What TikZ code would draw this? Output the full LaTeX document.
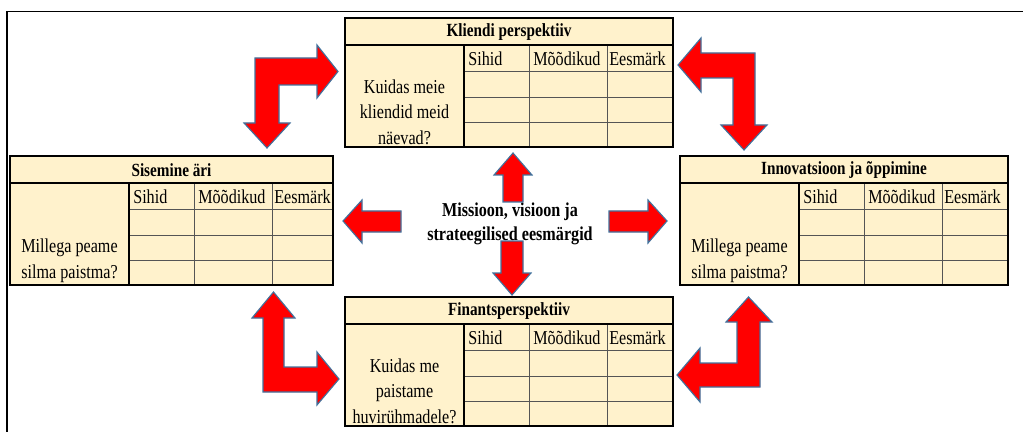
\documentclass[tikz,border=0pt]{standalone}
\usepackage{fontspec}
\setmainfont{Liberation Serif}[FakeStretch=0.82]
\usetikzlibrary{calc}
\definecolor{cardbg}{HTML}{FFF2CC}
\definecolor{gridgray}{HTML}{555555}
\definecolor{arrowred}{HTML}{FF0000}
\definecolor{arrowedge}{HTML}{41719C}
\newcommand{\bodyfont}{\fontsize{14}{18}\selectfont}
\newcommand{\headfont}{\fontsize{13.2}{17}\selectfont\bfseries}
\newcommand{\missionfont}{\fontsize{14}{17}\selectfont\bfseries}
\tikzset{
  pageframe/.style={draw=black, line width=1.2pt},
  cardframe/.style={draw=black, line width=1.3pt},
  cardrule/.style={draw=black, line width=1.1pt},
  gridline/.style={draw=gridgray, line width=0.6pt},
  cardtitle/.style={font=\headfont, inner sep=0pt},
  colhead/.style={anchor=west, inner sep=0pt, font=\bodyfont},
  question/.style={anchor=south, align=center, font=\bodyfont, inner sep=1pt},
  mission/.style={font=\missionfont, align=center},
  blockarrow/.style={fill=arrowred, draw=arrowedge, line width=0.8pt, line join=miter},
}
% one scorecard: name, left x, top y, width, title, question
\newcommand{\scorecard}[6]{%
  \coordinate (#1-nw) at (#2,#3);
  \coordinate (#1-se) at ($(#2,#3)+(#4,129)$);
  \fill[cardbg] (#1-nw) rectangle (#1-se);
  \foreach \rowy in {53,79,104}
    \draw[gridline] ($(#1-nw)+(119,\rowy)$) -- ($(#1-nw)+(#4,\rowy)$);
  \foreach \colx in {184,262}
    \draw[gridline] ($(#1-nw)+(\colx,27)$) -- ($(#1-nw)+(\colx,129)$);
  \draw[cardrule] ($(#1-nw)+(0,27)$) -- ($(#1-nw)+(#4,27)$);
  \draw[cardrule] ($(#1-nw)+(119,27)$) -- ($(#1-nw)+(119,129)$);
  \draw[cardframe] (#1-nw) rectangle (#1-se);
  \node[cardtitle] (#1-title) at ($(#1-nw)+(#4/2,14.5)$) {#5};
  \node[colhead] (#1-sihid) at ($(#1-nw)+(123,41)$) {Sihid};
  \node[colhead] (#1-moodik) at ($(#1-nw)+(188,41)$) {Mõõdikud};
  \node[colhead] (#1-eesm) at ($(#1-nw)+(264,41)$) {Eesmärk};
  \node[question] (#1-q) at ($(#1-nw)+(59.5,128)$) {#6};
}

\begin{document}
\begin{tikzpicture}[x=0.025cm, y=-0.025cm]
\useasboundingbox (0,0) rectangle (1023,432);

% page frame (top and left edges only)
\draw[pageframe] (7,432) |- (1023,11.5);

% the four perspectives
\scorecard{client}{345}{18}{328}{Kliendi perspektiiv}{Kuidas meie\\kliendid meid\\näevad?}
\scorecard{internal}{10}{156}{323}{Sisemine äri}{Millega peame\\silma paistma?}
\scorecard{learning}{680}{156}{328}{Innovatsioon ja õppimine}{Millega peame\\silma paistma?}
\scorecard{finance}{345}{297}{328}{Finantsperspektiiv}{Kuidas me\\paistame\\huvirühmadele?}

% centre
\node[mission] (mission) at (510,224) {Missioon, visioon ja\\strateegilised eesmärgid};

% centre arrows
\draw[blockarrow] (513,153) -- (532,175) -- (523,175) -- (523,202) -- (503,202)
  -- (503,175) -- (494,175) -- cycle;
\draw[blockarrow] (343,221) -- (362,200) -- (362,211) -- (401,211) -- (401,232)
  -- (362,232) -- (362,243) -- cycle;
\draw[blockarrow] (667,221) -- (648,243) -- (648,232) -- (609,232) -- (609,211)
  -- (648,211) -- (648,200) -- cycle;
\draw[blockarrow] (512,295) -- (531,273) -- (523,273) -- (523,241) -- (501,241)
  -- (501,273) -- (493,273) -- cycle;

% bent arrows between perspectives
\draw[blockarrow] (267,148) -- (290,123) -- (279,123) -- (279,85) -- (317,85)
  -- (317,98) -- (338,71.5) -- (317,45) -- (317,58) -- (255,58) -- (255,123)
  -- (244,123) -- cycle;
\draw[blockarrow] (678,65) -- (701,38) -- (701,53) -- (755,53) -- (755,125)
  -- (767,125) -- (744,150) -- (721,125) -- (733,125) -- (733,78) -- (701,78)
  -- (701,92) -- cycle;
\draw[blockarrow] (273.5,292) -- (295,318) -- (284,318) -- (284,367) -- (317,367)
  -- (317,352) -- (339,379) -- (317,405) -- (317,392) -- (263,392) -- (263,318)
  -- (252,318) -- cycle;
\draw[blockarrow] (748.5,297) -- (772,322) -- (760,322) -- (760,387) -- (700,387)
  -- (700,402) -- (677,375) -- (700,348) -- (700,363) -- (737,363) -- (737,322)
  -- (726,322) -- cycle;

\end{tikzpicture}
\end{document}
